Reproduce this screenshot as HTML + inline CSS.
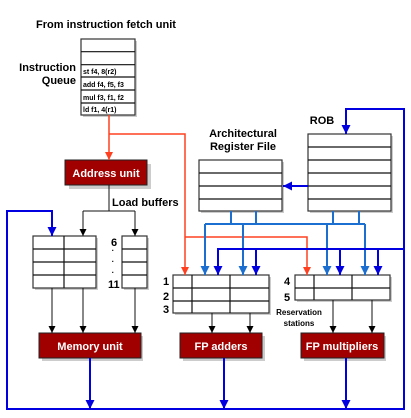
<!DOCTYPE html>
<html><head><meta charset="utf-8"><style>
body{margin:0;background:#fff}
svg{display:block;font-family:"Liberation Sans",sans-serif;font-weight:bold}
</style></head><body>
<svg width="411" height="418" viewBox="0 0 411 418">
<defs>
<marker id="ak" markerWidth="8" markerHeight="8" refX="4" refY="7" orient="auto" markerUnits="userSpaceOnUse"><path d="M0,0 L8,0 L4,7 z" transform="rotate(-90 4 4)" fill="#000"/></marker>
<marker id="kb" viewBox="0 0 10 10" refX="10" refY="5" markerWidth="7" markerHeight="7" orient="auto" markerUnits="userSpaceOnUse"><path d="M0,0 L10,5 L0,10 z" fill="#000"/></marker>
<marker id="rb" viewBox="0 0 10 10" refX="10" refY="5" markerWidth="8" markerHeight="8" orient="auto" markerUnits="userSpaceOnUse"><path d="M0,0 L10,5 L0,10 z" fill="#ff4020"/></marker>
<marker id="bb" viewBox="0 0 10 10" refX="10" refY="5" markerWidth="9" markerHeight="9" orient="auto" markerUnits="userSpaceOnUse"><path d="M0,0 L10,5 L0,10 z" fill="#0000e0"/></marker>
<marker id="lb" viewBox="0 0 10 10" refX="10" refY="5" markerWidth="9" markerHeight="9" orient="auto" markerUnits="userSpaceOnUse"><path d="M0,0 L10,5 L0,10 z" fill="#1a6fd0"/></marker>
</defs>
<g fill="#ccc">
<rect x="83" y="41" width="54" height="76"/><rect x="69" y="164" width="82" height="25"/>
<rect x="201" y="162" width="83" height="51"/><rect x="310" y="136" width="83" height="77"/>
<rect x="35" y="238" width="63" height="52"/><rect x="124" y="238" width="25" height="52"/>
<rect x="175" y="277" width="96" height="38"/><rect x="297" y="277" width="95" height="25"/>
<rect x="42" y="336" width="101" height="25"/><rect x="183" y="336" width="82" height="25"/><rect x="304" y="336" width="82" height="25"/>
</g>
<text x="106" y="28" font-size="11" text-anchor="middle">From instruction fetch unit</text>
<text x="76" y="71" font-size="11" text-anchor="end">Instruction</text>
<text x="76" y="84" font-size="11" text-anchor="end">Queue</text>
<g fill="#fff" stroke="#333" stroke-width="1.2">
<rect x="81" y="39" width="54" height="76"/>
<rect x="199" y="160" width="83" height="51"/><rect x="308" y="134" width="83" height="77"/>
<rect x="33" y="236" width="63" height="52"/><rect x="122" y="236" width="25" height="52"/>
<rect x="173" y="275" width="96" height="38"/><rect x="295" y="275" width="95" height="25"/>
</g>
<g stroke="#111" stroke-width="1.2">
<path d="M81 51.7H135M81 64.7H135M81 77H135M81 90H135M81 103H135"/>
<path d="M199 173H282M199 186H282M199 199H282"/>
<path d="M308 147H391M308 160H391M308 173H391M308 186H391M308 199H391"/>
<path d="M33 249H96M33 262H96M33 275H96M64 236V288M122 249H147M122 262H147M122 275H147"/>
<path d="M173 288H269M173 301H269M192 275V313M230 275V313"/>
<path d="M295 288H390M314 275V300M352 275V300"/>
</g>
<g font-size="7">
<text x="83" y="74">st f4, 8(r2)</text><text x="83" y="87">add f4, f5, f3</text>
<text x="83" y="100">mul f3, f1, f2</text><text x="83" y="112">ld f1, 4(r1)</text>
</g>
<g fill="#a00000" stroke="#222"><rect x="65" y="160" width="82" height="25"/>
<rect x="39" y="333" width="102" height="25"/><rect x="180" y="333" width="82" height="25"/><rect x="301" y="333" width="83" height="25"/></g>
<g fill="#fff" font-size="11" text-anchor="middle">
<text x="106" y="177">Address unit</text><text x="90" y="350">Memory unit</text>
<text x="221" y="350">FP adders</text><text x="342" y="350">FP multipliers</text></g>
<text x="112" y="206" font-size="11">Load buffers</text>
<text x="243" y="137" font-size="11" text-anchor="middle">Architectural</text>
<text x="243" y="150" font-size="11" text-anchor="middle">Register File</text>
<text x="322" y="124" font-size="11" text-anchor="middle">ROB</text>
<g font-size="11"><text x="111" y="246">6</text><text x="108" y="288">11</text>
<text x="163" y="285">1</text><text x="163" y="300">2</text><text x="163" y="313">3</text>
<text x="284" y="285">4</text><text x="284" y="301">5</text></g>
<g font-size="8" text-anchor="middle"><text x="113" y="253">·</text><text x="113" y="264">·</text><text x="113" y="275">·</text></g>
<text x="299" y="315" font-size="8" text-anchor="middle">Reservation</text>
<text x="299" y="326" font-size="8" text-anchor="middle">stations</text>
<g fill="none" stroke="#111" stroke-width="1">
<path d="M109 185V211M83 211H135"/>
<path d="M83 211V236" marker-end="url(#kb)"/><path d="M135 211V236" marker-end="url(#kb)"/>
<path d="M52 288V333" marker-end="url(#kb)"/><path d="M83 288V333" marker-end="url(#kb)"/><path d="M135 288V333" marker-end="url(#kb)"/>
<path d="M212 313V333" marker-end="url(#kb)"/><path d="M250 313V333" marker-end="url(#kb)"/>
<path d="M333 300V333" marker-end="url(#kb)"/><path d="M372 300V333" marker-end="url(#kb)"/>
</g>
<g fill="none" stroke="#ff4020" stroke-width="1.5">
<path d="M109 115V160" marker-end="url(#rb)"/>
<path d="M109 134H185V275" marker-end="url(#rb)"/>
<path d="M185 237H307V275" marker-end="url(#rb)"/>
</g>
<g fill="none" stroke="#1a6fd0" stroke-width="2">
<path d="M231 211V224M256 211V224M333 211V224M359 211V224M205 224H365"/>
<path d="M205 224V275" marker-end="url(#lb)"/><path d="M243 224V275" marker-end="url(#lb)"/>
<path d="M327 224V275" marker-end="url(#lb)"/><path d="M365 224V275" marker-end="url(#lb)"/>
</g>
<g fill="none" stroke="#0000e0" stroke-width="2">
<path d="M52 211H7V409H404V109H346V134" marker-end="url(#bb)"/>
<path d="M7 211H52V236" marker-end="url(#bb)"/>
<path d="M404 249H218V275" marker-end="url(#bb)"/>
<path d="M256 249V275" marker-end="url(#bb)"/><path d="M340 249V275" marker-end="url(#bb)"/><path d="M378 249V275" marker-end="url(#bb)"/>
<path d="M308 186H283" marker-end="url(#bb)"/>
<path d="M90 358V409" marker-end="url(#bb)"/><path d="M224 358V409" marker-end="url(#bb)"/><path d="M346 358V409" marker-end="url(#bb)"/>
</g>
</svg>
</body></html>
